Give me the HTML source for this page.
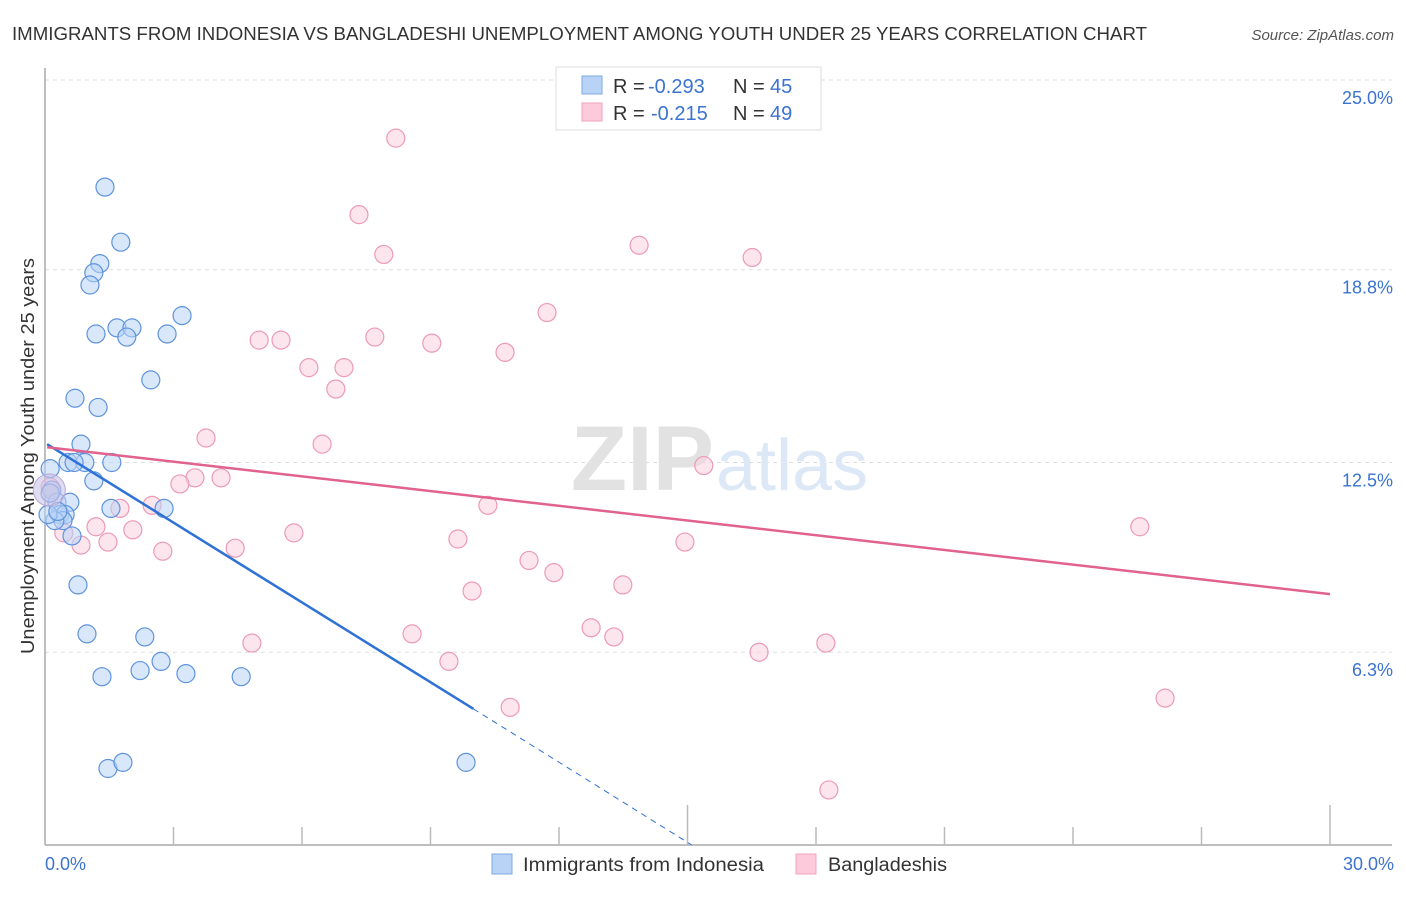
<!DOCTYPE html>
<html><head><meta charset="utf-8"><style>
body{margin:0;background:#fff;font-family:"Liberation Sans",sans-serif;}
svg text{font-family:"Liberation Sans",sans-serif;}
</style></head><body>
<svg id="chart" width="1406" height="892" xmlns="http://www.w3.org/2000/svg">
<text x="12" y="40" font-size="18" fill="#333" textLength="1135" lengthAdjust="spacingAndGlyphs">IMMIGRANTS FROM INDONESIA VS BANGLADESHI UNEMPLOYMENT AMONG YOUTH UNDER 25 YEARS CORRELATION CHART</text>
<text x="1394" y="40" font-size="15" fill="#555" text-anchor="end" font-style="italic">Source: ZipAtlas.com</text>
<g id="grid"></g>
<text x="714" y="490" font-size="92" fill="#e2e2e2" text-anchor="end" font-family="Liberation Serif" font-weight="bold">ZIP</text>
<text x="716" y="490" font-size="72" fill="#dde8f6">atlas</text>
<line x1="45" y1="68" x2="45" y2="845" stroke="#aaa" stroke-width="1.5"/>
<line x1="45" y1="845" x2="1392" y2="845" stroke="#aaa" stroke-width="1.5"/>
<g id="xticks"></g>
<g id="ylabels"></g>
<text x="45" y="870" font-size="18" fill="#3b73d0">0.0%</text>
<text x="1394" y="870" font-size="18" fill="#3b73d0" text-anchor="end">30.0%</text>
<text transform="translate(34,456) rotate(-90)" font-size="18.5" fill="#333" text-anchor="middle" textLength="396" lengthAdjust="spacingAndGlyphs">Unemployment Among Youth under 25 years</text>
<g id="pinkPts"></g>
<g id="bluePts"></g>
<g id="trends"></g>
<g>
<rect x="556" y="67" width="265" height="63" fill="#fff" stroke="#ddd"/>
<rect x="582" y="76" width="20" height="18" fill="#b8d3f5" stroke="#7fa9e3"/>
<rect x="582" y="103" width="20" height="18" fill="#fccadb" stroke="#f0a3bd"/>
<text x="613" y="93" font-size="20" fill="#333">R =</text>
<text x="648" y="93" font-size="20" fill="#3b73d0">-0.293</text>
<text x="733" y="93" font-size="20" fill="#333">N =</text>
<text x="770" y="93" font-size="20" fill="#3b73d0">45</text>
<text x="613" y="120" font-size="20" fill="#333">R =</text>
<text x="651" y="120" font-size="20" fill="#3b73d0">-0.215</text>
<text x="733" y="120" font-size="20" fill="#333">N =</text>
<text x="770" y="120" font-size="20" fill="#3b73d0">49</text>
</g>
<g>
<rect x="492" y="854" width="20" height="20" fill="#b8d3f5" stroke="#7fa9e3"/>
<text x="523" y="871" font-size="19" fill="#333" textLength="241" lengthAdjust="spacingAndGlyphs">Immigrants from Indonesia</text>
<rect x="796" y="854" width="20" height="20" fill="#fccadb" stroke="#f0a3bd"/>
<text x="828" y="871" font-size="19" fill="#333" textLength="119" lengthAdjust="spacingAndGlyphs">Bangladeshis</text>
</g>
</svg>
<script>
const yTicks=[25.0,18.8,12.5,6.3];
const yTickLabels=["25.0%","18.8%","12.5%","6.3%"];
const xTicks=[3,6,9,12,15,18,21,24,27,30];
const blueX=[1.40,1.77,1.28,1.14,1.05,3.20,1.68,2.03,1.19,1.91,2.85,2.47,0.70,1.24,0.84,0.54,0.93,0.68,1.56,1.14,0.12,0.16,0.28,0.58,1.54,2.78,0.35,0.47,0.42,0.23,0.63,0.77,0.98,2.33,2.71,2.22,3.29,1.33,4.58,1.47,1.82,9.83,0.12,0.07,0.30];
const blueY=[21.5,19.7,19.0,18.7,18.3,17.3,16.9,16.9,16.7,16.6,16.7,15.2,14.6,14.3,13.1,12.5,12.5,12.5,12.5,11.9,12.3,11.6,11.2,11.2,11.0,11.0,10.8,10.8,10.6,10.6,10.1,8.5,6.9,6.8,6.0,5.7,5.6,5.5,5.5,2.5,2.7,2.7,11.5,10.8,10.9];
const pinkX=[8.19,7.33,7.91,13.87,16.51,11.72,5.00,5.51,7.70,9.03,10.74,6.16,6.98,6.79,3.76,6.47,15.38,3.50,4.11,3.15,10.34,1.75,2.50,1.19,2.05,5.81,0.44,0.84,1.47,2.75,4.44,9.64,14.94,25.56,11.30,11.88,9.97,13.49,12.75,8.57,13.28,4.83,18.23,9.43,16.67,26.15,10.86,18.30,0.12];
const pinkY=[23.1,20.6,19.3,19.6,19.2,17.4,16.5,16.5,16.6,16.4,16.1,15.6,15.6,14.9,13.3,13.1,12.4,12.0,12.0,11.8,11.1,11.0,11.1,10.4,10.3,10.2,10.2,9.8,9.9,9.6,9.7,10.0,9.9,10.4,9.3,8.9,8.3,8.5,7.1,6.9,6.8,6.6,6.6,6.0,6.3,4.8,4.5,1.8,11.7];
const X=v=>45+v/30*1285, Y=v=>845-v*30.6;
const NS="http://www.w3.org/2000/svg";
function mk(tag,attrs,parent){const e=document.createElementNS(NS,tag);for(const k in attrs)e.setAttribute(k,attrs[k]);parent.appendChild(e);return e;}
const grid=document.getElementById('grid'),yl=document.getElementById('ylabels'),xt=document.getElementById('xticks');
yTicks.forEach((t,i)=>{
 const l=mk('line',{x1:45,x2:1392,y1:Y(t),y2:Y(t),stroke:'#ddd','stroke-dasharray':'4,4'},grid);
 
 
 const tx=mk('text',{x:1393,y:Y(t)+24,'font-size':18,fill:'#3b73d0','text-anchor':'end'},yl);
 tx.textContent=yTickLabels[i];
 
 
});
xTicks.forEach(t=>{
 const big=(t===15||t===30);
 const l=mk('line',{x1:X(t),x2:X(t),y1:big?805:827,y2:845,stroke:'#bbb','stroke-width':1.5},xt);
 
 
});
function pts(xs,ys,g,fill,stroke,name){
 xs.forEach((x,i)=>{
  const c=mk('circle',{cx:X(x),cy:Y(ys[i]),r:9,fill:fill,'fill-opacity':0.55,stroke:stroke,'stroke-width':1.2},g);
  
  
 });
}
pts(pinkX,pinkY,document.getElementById('pinkPts'),'#fbd0de','#ec9ab5','bangladeshi-point');
pts(blueX,blueY,document.getElementById('bluePts'),'#b8d3f5','#5e93dd','indonesia-point');
const big1=mk('circle',{cx:X(0.1),cy:Y(11.6),r:16,fill:'#c9c3e6','fill-opacity':0.6,stroke:'#b9a8d8'},document.getElementById('bluePts'));


const tr=document.getElementById('trends');
const blueLine=[0.05,13.1,10.0,4.45], blueDash=[10.0,4.45,15.1,0];
const pinkLine=[0.05,13.0,30,8.2];
let l=mk('line',{x1:X(blueLine[0]),y1:Y(blueLine[1]),x2:X(blueLine[2]),y2:Y(blueLine[3]),stroke:'#2f72d6','stroke-width':2.5},tr);


l=mk('line',{x1:X(blueDash[0]),y1:Y(blueDash[1]),x2:X(blueDash[2]),y2:Y(blueDash[3]),stroke:'#2f72d6','stroke-width':1,'stroke-dasharray':'6,5'},tr);


l=mk('line',{x1:X(pinkLine[0]),y1:Y(pinkLine[1]),x2:X(pinkLine[2]),y2:Y(pinkLine[3]),stroke:'#e0628d','stroke-width':2.5},tr);


</script>
</body></html>
